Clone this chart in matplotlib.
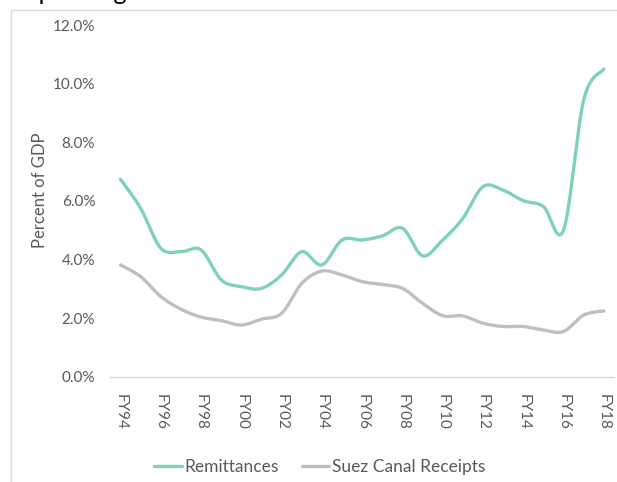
import matplotlib
matplotlib.use("Agg")
import matplotlib.pyplot as plt
import numpy as np
from matplotlib.patches import Rectangle

# data (percent of GDP)
years = ["FY94", "FY95", "FY96", "FY97", "FY98", "FY99", "FY00", "FY01", "FY02",
         "FY03", "FY04", "FY05", "FY06", "FY07", "FY08", "FY09", "FY10", "FY11",
         "FY12", "FY13", "FY14", "FY15", "FY16", "FY17", "FY18"]
remittances = [6.74, 5.75, 4.39, 4.27, 4.33, 3.31, 3.08, 3.02, 3.48, 4.27, 3.82, 4.67,
               4.67, 4.81, 5.07, 4.13, 4.67, 5.41, 6.49, 6.37, 6.01, 5.81, 5.01, 9.45, 10.5]
suez = [3.82, 3.42, 2.74, 2.31, 2.04, 1.92, 1.77, 1.97, 2.17, 3.19, 3.61, 3.48,
        3.25, 3.15, 3.02, 2.51, 2.09, 2.08, 1.83, 1.72, 1.72, 1.60, 1.55, 2.11, 2.25]

yticks = [0, 2, 4, 6, 8, 10, 12]
ytick_labels = ["0.0%", "2.0%", "4.0%", "6.0%", "8.0%", "10.0%", "12.0%"]

green = "#7fd1b7"
grey = "#bfbfbf"
txt = "#595959"

plt.rcParams['font.family'] = ['Lato', 'DejaVu Sans']


def smooth(x, y, n=20, t=0.5):
    # cardinal spline through the points, like a smoothed Excel line
    x = np.asarray(x, float)
    y = np.asarray(y, float)
    xs, ys = [], []
    for i in range(len(x) - 1):
        p0 = np.array([x[max(i - 1, 0)], y[max(i - 1, 0)]])
        p1 = np.array([x[i], y[i]])
        p2 = np.array([x[i + 1], y[i + 1]])
        p3 = np.array([x[min(i + 2, len(x) - 1)], y[min(i + 2, len(x) - 1)]])
        m1 = t * (p2 - p0)
        m2 = t * (p3 - p1)
        s = np.linspace(0, 1, n, endpoint=(i == len(x) - 2))
        h00 = 2 * s**3 - 3 * s**2 + 1
        h10 = s**3 - 2 * s**2 + s
        h01 = -2 * s**3 + 3 * s**2
        h11 = s**3 - s**2
        pts = (np.outer(h00, p1) + np.outer(h10, m1) + np.outer(h01, p2) + np.outer(h11, m2))
        xs.extend(pts[:, 0])
        ys.extend(pts[:, 1])
    return np.array(xs), np.array(ys)


fig = plt.figure(figsize=(6.17, 4.82), dpi=100)
ax = fig.add_axes([0.179, 0.218, 0.816, 0.730])

# outer frame of the chart box (runs off the right and bottom edges)
fig.patches.append(Rectangle((11 / 617, -0.1), 1.2, 1 - 10 / 482 + 0.1,
                             transform=fig.transFigure, fill=False,
                             edgecolor="#d9d9d9", linewidth=1.0))
# cropped title above the box
fig.text(0.04, 0.999, "Spending", fontsize=18, color="black", va="baseline")

idx = np.arange(len(years))
xr, yr = smooth(idx, remittances)
xs_, ys_ = smooth(idx, suez)
ax.plot(xr, yr, color=green, lw=2.4, solid_capstyle="round", label="Remittances")
ax.plot(xs_, ys_, color=grey, lw=2.4, solid_capstyle="round", label="Suez Canal Receipts")

ax.set_xlim(-0.5, len(years) - 0.5)
ax.set_ylim(0, 12)
ax.set_yticks(yticks)
ax.set_yticklabels(ytick_labels, color=txt, fontsize=11)
ax.set_xticks(idx[::2])
ax.set_xticklabels(years[::2], rotation=-90, color=txt, fontsize=11)
ax.tick_params(axis="both", length=0)
ax.tick_params(axis="x", pad=12)
ax.tick_params(axis="y", pad=11)

for s in ["top", "right", "left"]:
    ax.spines[s].set_visible(False)
ax.spines["bottom"].set_color("#d9d9d9")
ax.spines["bottom"].set_linewidth(1.0)

ax.set_ylabel("Percent of GDP", color=txt, fontsize=12, labelpad=8)
ax.yaxis.set_label_coords(-0.125, 0.53)

leg = ax.legend(loc="upper center", bbox_to_anchor=(0.416, -0.19), ncol=2, frameon=False,
                fontsize=12.5, handlelength=1.6, handletextpad=0.15, columnspacing=1.3)
for t in leg.get_texts():
    t.set_color(txt)

fig.savefig("out.png", dpi=100)
